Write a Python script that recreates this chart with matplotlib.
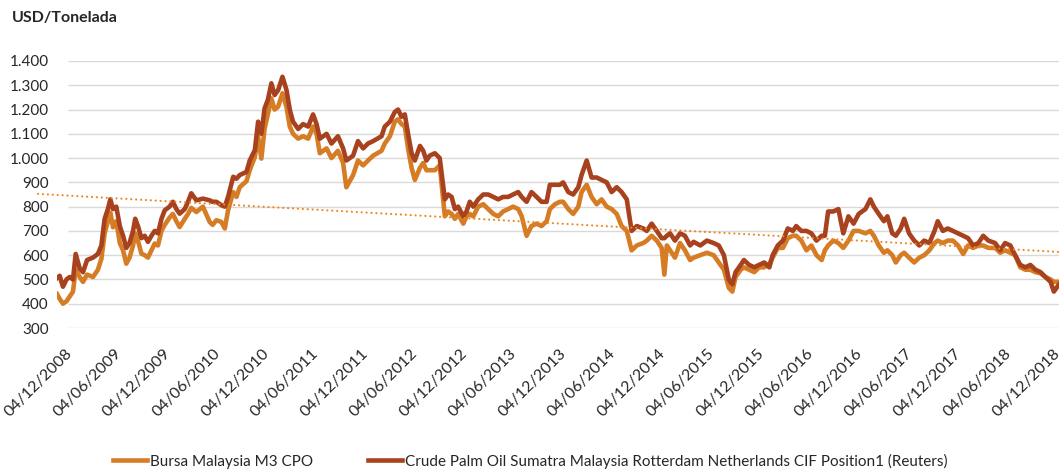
import numpy as np
import pandas as pd
import matplotlib
matplotlib.use("Agg")
import matplotlib.pyplot as plt
import matplotlib.dates as mdates
import matplotlib.transforms as mtransforms
from matplotlib.ticker import FuncFormatter
from matplotlib.lines import Line2D

plt.rcParams["font.family"] = ["Lato", "DejaVu Sans"]

# Price series (USD per tonne)
dates = [
    "2008-10-18", "2008-10-28", "2008-11-09", "2008-11-22", "2008-12-04", "2008-12-16",
    "2008-12-26", "2009-01-10", "2009-01-22", "2009-02-06", "2009-02-28", "2009-03-18",
    "2009-03-31", "2009-04-12", "2009-04-24", "2009-05-03", "2009-05-13", "2009-05-25",
    "2009-06-07", "2009-06-19", "2009-07-01", "2009-07-13", "2009-07-26", "2009-08-03",
    "2009-08-13", "2009-08-26", "2009-09-07", "2009-09-19", "2009-10-02", "2009-10-14",
    "2009-10-26", "2009-11-08", "2009-11-20", "2009-12-08", "2009-12-20", "2010-01-02",
    "2010-01-14", "2010-02-02", "2010-02-14", "2010-02-26", "2010-03-17", "2010-04-10",
    "2010-05-05", "2010-05-16", "2010-05-30", "2010-06-17", "2010-06-30", "2010-07-12",
    "2010-07-31", "2010-08-12", "2010-08-24", "2010-09-18", "2010-09-30", "2010-10-19",
    "2010-10-31", "2010-11-12", "2010-11-24", "2010-12-06", "2010-12-19", "2010-12-31",
    "2011-01-13", "2011-01-29", "2011-02-13", "2011-02-25", "2011-03-09", "2011-03-28",
    "2011-04-15", "2011-05-04", "2011-05-22", "2011-06-04", "2011-06-16", "2011-07-11",
    "2011-07-29", "2011-08-22", "2011-09-10", "2011-09-22", "2011-10-17", "2011-11-04",
    "2011-11-23", "2011-12-11", "2011-12-30", "2012-01-30", "2012-02-11", "2012-03-01",
    "2012-03-19", "2012-03-31", "2012-04-13", "2012-04-25", "2012-05-07", "2012-05-20",
    "2012-06-01", "2012-06-20", "2012-07-02", "2012-07-14", "2012-07-26", "2012-08-14",
    "2012-09-01", "2012-09-20", "2012-10-02", "2012-10-15", "2012-10-27", "2012-11-08",
    "2012-11-27", "2012-12-09", "2012-12-21", "2013-01-03", "2013-01-21", "2013-02-09",
    "2013-02-27", "2013-03-18", "2013-04-05", "2013-04-23", "2013-05-12", "2013-05-30",
    "2013-06-18", "2013-07-01", "2013-07-19", "2013-08-06", "2013-08-25", "2013-09-12",
    "2013-10-01", "2013-10-13", "2013-11-01", "2013-11-19", "2013-12-01", "2013-12-20",
    "2014-01-07", "2014-01-26", "2014-02-07", "2014-02-26", "2014-03-16", "2014-04-04",
    "2014-04-22", "2014-05-11", "2014-05-29", "2014-06-17", "2014-07-05", "2014-07-24",
    "2014-08-11", "2014-08-30", "2014-09-23", "2014-10-06", "2014-10-24", "2014-11-12",
    "2014-11-30", "2014-12-10", "2014-12-19", "2014-12-31", "2015-01-18", "2015-02-06",
    "2015-02-24", "2015-03-15", "2015-03-28", "2015-04-22", "2015-05-16", "2015-06-10",
    "2015-06-29", "2015-07-18", "2015-08-05", "2015-08-18", "2015-08-30", "2015-09-18",
    "2015-09-30", "2015-10-19", "2015-11-07", "2015-11-25", "2015-12-14", "2016-01-02",
    "2016-01-14", "2016-02-02", "2016-02-21", "2016-03-10", "2016-03-29", "2016-04-10",
    "2016-04-29", "2016-05-18", "2016-06-05", "2016-06-24", "2016-07-13", "2016-07-25",
    "2016-08-06", "2016-08-25", "2016-09-13", "2016-10-01", "2016-10-20", "2016-11-08",
    "2016-11-27", "2016-12-22", "2017-01-09", "2017-01-22", "2017-02-09", "2017-02-28",
    "2017-03-13", "2017-03-31", "2017-04-13", "2017-05-01", "2017-05-14", "2017-06-01",
    "2017-06-20", "2017-07-09", "2017-07-27", "2017-08-15", "2017-09-03", "2017-09-15",
    "2017-10-04", "2017-10-22", "2017-11-10", "2017-11-29", "2017-12-18", "2018-01-05",
    "2018-01-24", "2018-02-12", "2018-03-02", "2018-03-21", "2018-04-15", "2018-05-04",
    "2018-05-22", "2018-06-10", "2018-06-28", "2018-07-17", "2018-08-05", "2018-08-23",
    "2018-09-11", "2018-09-30", "2018-10-18", "2018-11-06", "2018-11-18", "2018-12-07",
]

crude = [
    505, 515, 470, 500, 510, 500, 605, 545, 530, 580, 590, 605,
    640, 750, 790, 830, 790, 800, 720, 680, 630, 650, 700, 750,
    720, 670, 680, 655, 680, 700, 690, 750, 785, 800, 820, 790,
    771, 790, 820, 855, 826, 833, 826, 820, 820, 806, 800, 840,
    923, 915, 930, 943, 990, 1033, 1150, 1100, 1205, 1240, 1308, 1260,
    1280, 1335, 1280, 1200, 1150, 1120, 1140, 1130, 1180, 1140, 1080, 1100,
    1060, 1090, 1040, 990, 1010, 1070, 1040, 1060, 1070, 1090, 1130, 1150,
    1190, 1200, 1170, 1180, 1100, 1020, 990, 1050, 1030, 990, 1010, 1020,
    1000, 830, 850, 840, 790, 800, 760, 780, 820, 800, 830, 850,
    850, 840, 830, 840, 840, 850, 860, 840, 820, 860, 840, 820,
    820, 890, 890, 890, 900, 860, 850, 880, 930, 990, 920, 920,
    910, 900, 860, 880, 860, 830, 700, 720, 710, 700, 730, 700,
    670, 670, 680, 690, 660, 690, 680, 640, 655, 640, 660, 650,
    640, 600, 500, 480, 530, 560, 580, 560, 550, 560, 570, 550,
    600, 640, 660, 710, 700, 720, 700, 700, 690, 660, 680, 680,
    780, 780, 790, 690, 760, 730, 770, 790, 830, 800, 770, 740,
    760, 690, 680, 710, 750, 690, 660, 640, 660, 650, 700, 740,
    700, 710, 700, 690, 680, 670, 640, 650, 680, 660, 650, 620,
    650, 640, 600, 560, 550, 560, 540, 530, 510, 490, 450, 480,
]

bursa = [
    440, 420, 400, 410, 430, 450, 540, 510, 490, 520, 510, 540,
    585, 690, 740, 775, 715, 740, 650, 620, 565, 590, 640, 690,
    660, 606, 600, 590, 620, 648, 640, 700, 725, 755, 770, 740,
    716, 750, 770, 795, 778, 800, 737, 725, 744, 737, 710, 785,
    860, 840, 880, 905, 950, 1005, 1088, 998, 1122, 1180, 1246, 1200,
    1212, 1267, 1210, 1130, 1100, 1080, 1090, 1080, 1130, 1100, 1020, 1040,
    1000, 1030, 980, 880, 930, 990, 970, 990, 1010, 1030, 1060, 1090,
    1150, 1160, 1140, 1130, 1040, 960, 910, 960, 980, 950, 950, 950,
    970, 760, 780, 770, 750, 770, 730, 760, 770, 760, 800, 810,
    790, 770, 760, 780, 790, 800, 790, 760, 680, 720, 730, 720,
    740, 790, 810, 820, 820, 790, 770, 800, 860, 890, 840, 810,
    830, 800, 790, 770, 720, 700, 620, 640, 650, 660, 680, 660,
    630, 520, 640, 620, 590, 650, 620, 580, 590, 600, 610, 600,
    570, 540, 466, 450, 510, 540, 550, 540, 530, 550, 550, 565,
    590, 630, 630, 670, 680, 680, 660, 620, 640, 600, 580, 620,
    640, 660, 650, 630, 660, 700, 700, 690, 700, 680, 640, 610,
    620, 600, 570, 600, 610, 590, 570, 590, 600, 620, 650, 660,
    650, 660, 660, 640, 605, 640, 630, 640, 640, 630, 630, 610,
    620, 610, 600, 550, 540, 540, 530, 525, 510, 500, 490, 490,
]

tick_dates = pd.date_range("2008-12-04", periods=21, freq=pd.DateOffset(months=6))
y_ticks = list(range(300, 1500, 100))

labels = ["Bursa Malaysia M3 CPO",
          "Crude Palm Oil Sumatra Malaysia Rotterdam Netherlands CIF Position1 (Reuters)"]
bursa_color = "#D57C24"
crude_color = "#A8421E"
trend_color = "#F0861E"
text_color = "#262626"

x = pd.to_datetime(dates)
xnum = mdates.date2num(x)

W, H = 1061, 472
fig = plt.figure(figsize=(W / 100, H / 100), dpi=100)
ax = fig.add_axes([57 / W, 1 - 328 / H, (1059 - 57) / W, (328 - 61) / H])

# gridlines
ax.hlines(y_ticks, mdates.date2num(tick_dates[0]) - 7, xnum[-1],
          color="#D9D9D9", lw=1.0, zorder=0)

ax.plot(xnum, bursa, color=bursa_color, lw=3.3, solid_joinstyle="round", zorder=2)
ax.plot(xnum, crude, color=crude_color, lw=3.3, solid_joinstyle="round", zorder=3)

# linear trend of the Bursa series, extended backward like the Excel trendline
coef = np.polyfit(xnum, bursa, 1)
tx = np.array([xnum[0] - 70, xnum[-1]])
ax.plot(tx, np.polyval(coef, tx), color=trend_color, lw=1.6,
        linestyle=(0, (0.01, 2.2)), dash_capstyle="round", zorder=4, clip_on=False)

ax.set_xlim(xnum[0], xnum[-1])
ax.set_ylim(300, 1400)
ax.set_yticks(y_ticks)
ax.yaxis.set_major_formatter(FuncFormatter(lambda v, p: f"{int(v):,}".replace(",", ".")))
ax.set_xticks(mdates.date2num(tick_dates))
ax.set_xticklabels([d.strftime("%d/%m/%Y") for d in tick_dates],
                   rotation=45, ha="right", va="top", rotation_mode="anchor")
ax.tick_params(axis="both", length=0, labelcolor=text_color)
ax.tick_params(axis="y", pad=6, labelsize=11)
ax.tick_params(axis="x", pad=13, labelsize=11.5)
shift = mtransforms.ScaledTranslation(-5 / 100, 0, fig.dpi_scale_trans)
for lbl in ax.get_xticklabels():
    lbl.set_transform(lbl.get_transform() + shift)
for s in ax.spines.values():
    s.set_visible(False)

fig.text(12 / W, 1 - 18 / H, "USD/Tonelada", fontsize=11.5, fontweight="bold",
         color=text_color, va="center", ha="left")

handles = [Line2D([], [], color=bursa_color, lw=3.3),
           Line2D([], [], color=crude_color, lw=3.3)]
fig.legend(handles, labels, loc="center", bbox_to_anchor=(0.5, 1 - 461 / H),
           ncol=2, frameon=False, fontsize=11, handlelength=2.2,
           handletextpad=0.2, columnspacing=3.6, labelcolor=text_color)

fig.savefig("out.png", dpi=100)
